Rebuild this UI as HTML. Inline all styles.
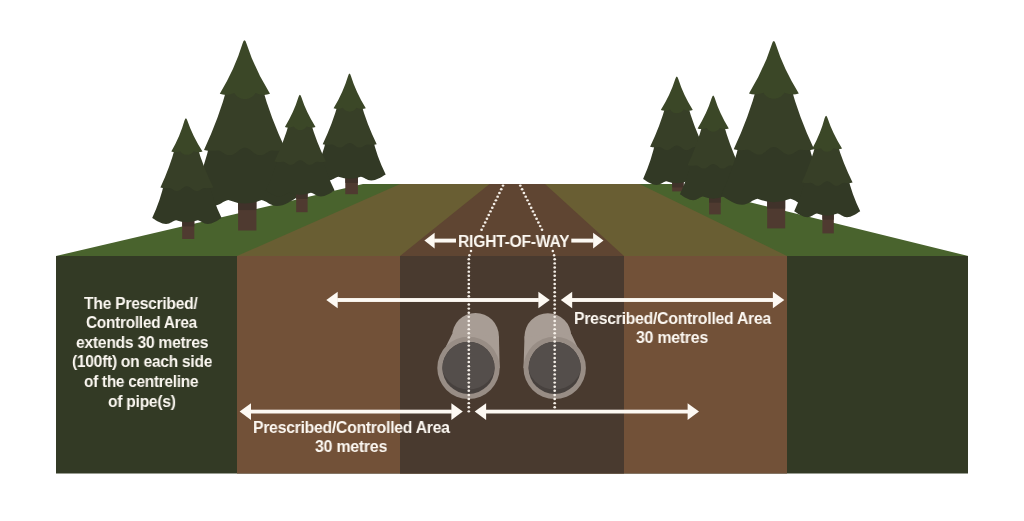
<!DOCTYPE html>
<html><head><meta charset="utf-8"><title>Right-of-way diagram</title>
<style>
html,body{margin:0;padding:0;background:#fff;}
body{width:1024px;height:521px;position:relative;overflow:hidden;font-family:"Liberation Sans",sans-serif;}
.t{position:absolute;color:#fcf8f2;font-weight:bold;white-space:nowrap;text-align:center;line-height:1;transform-origin:0 0;will-change:transform;filter:blur(0.3px);}
</style></head><body>
<svg width="1024" height="521" viewBox="0 0 1024 521" style="position:absolute;left:0;top:0;filter:blur(0.45px)">

<polygon points="56,256 363,184 676,184 968.2,256" fill="#49632d"/>
<polygon points="237,256 400.2,184 639.5,184 787,256" fill="#695e33"/>
<polygon points="400,256 489.5,184 545,184 624,256" fill="#5f4532"/>
<rect x="56" y="256" width="912" height="217.5" fill="#333a25"/>
<rect x="237" y="256" width="550" height="217.5" fill="#725138"/>
<rect x="400" y="256" width="224" height="217.5" fill="#493a2f"/>

<g><rect x="345.3" y="174.5" width="12.6" height="19.7" fill="#4f3a30"/><rect x="345.3" y="174.5" width="12.6" height="8.4" fill="#40322a"/><path d="M 326.54 138.2 L 372.72 138.2 Q 376.69 156.35 385.7 174.5 C 380.66 177.5 376.34 180.4 371.3 180.4 C 366.62 180.4 364.1 177 360.86 176.7 Q 349.7 181 338.54 176.7 C 335.3 177 332.78 180.4 328.1 180.4 C 323.06 180.4 318.74 177.5 313.7 174.5 Q 322.64 156.35 326.54 138.2 Z" fill="#323925"/><path d="M 338.16 103.3 L 361.01 103.3 Q 366.69 123.75 376.7 144.2 Q 372.65 145.2 367.52 144.5 C 364.82 144.6 363.2 147.6 359.42 147.6 C 355.64 147.6 353.48 142.9 349.7 142.9 C 345.92 142.9 343.76 147.6 339.98 147.6 C 336.2 147.6 334.58 144.6 331.88 144.5 Q 326.75 145.2 322.7 144.2 Q 332.59 123.75 338.16 103.3 Z" fill="#373f27"/><path d="M 348 76.15 Q 349.5 71.05 351 76.15 Q 355.98 92.22 365.8 108.3 Q 361.61 109.91 356.46 107.82 C 353.56 112.97 345.84 112.97 342.94 107.82 Q 337.79 109.91 333.6 108.3 Q 343.21 92.22 348 76.15 Z" fill="#3b4727"/></g><g><rect x="238.1" y="196.6" width="18.3" height="33.9" fill="#4f3a30"/><rect x="238.1" y="196.6" width="18.3" height="13.44" fill="#40322a"/><path d="M 210.47 140.3 L 279.05 140.3 Q 284.98 168.45 298.4 196.6 C 290.91 201.4 284.49 206.04 277 206.04 C 270.05 206.04 266.3 200.6 261.49 200.12 Q 244.9 207 228.31 200.12 C 223.5 200.6 219.75 206.04 212.8 206.04 C 205.31 206.04 198.89 201.4 191.4 196.6 Q 204.68 168.45 210.47 140.3 Z" fill="#323925"/><path d="M 227.58 85.8 L 261.76 85.8 Q 270.51 117.85 285.8 149.9 Q 279.67 151.5 271.89 150.38 C 267.8 150.54 265.35 155.34 259.62 155.34 C 253.9 155.34 250.63 147.82 244.9 147.82 C 239.17 147.82 235.9 155.34 230.18 155.34 C 224.45 155.34 222 150.54 217.91 150.38 Q 210.13 151.5 204 149.9 Q 219.06 117.85 227.58 85.8 Z" fill="#373f27"/><path d="M 242.55 43.5 Q 244.5 36.88 246.45 43.5 Q 254.46 68.65 270 93.8 Q 263.47 96.31 255.44 93.05 C 250.92 101.08 238.88 101.08 234.36 93.05 Q 226.33 96.31 219.8 93.8 Q 234.94 68.65 242.55 43.5 Z" fill="#3b4727"/></g><g><rect x="296.2" y="190.5" width="11.4" height="21.7" fill="#4f3a30"/><rect x="296.2" y="190.5" width="11.4" height="8.4" fill="#40322a"/><path d="M 278.23 155.5 L 321.95 155.5 Q 325.87 173 334.6 190.5 C 329.78 193.5 325.66 196.4 320.84 196.4 C 316.37 196.4 313.96 193 310.86 192.7 Q 300.2 197 289.54 192.7 C 286.44 193 284.03 196.4 279.56 196.4 C 274.74 196.4 270.62 193.5 265.8 190.5 Q 274.42 173 278.23 155.5 Z" fill="#323925"/><path d="M 289.43 122 L 310.61 122 Q 316.24 141.75 326 161.5 Q 322.13 162.5 317.23 161.8 C 314.65 161.9 313.1 164.9 309.49 164.9 C 305.88 164.9 303.81 160.2 300.2 160.2 C 296.59 160.2 294.52 164.9 290.91 164.9 C 287.3 164.9 285.75 161.9 283.17 161.8 Q 278.27 162.5 274.4 161.5 Q 283.98 141.75 289.43 122 Z" fill="#373f27"/><path d="M 298.4 97.35 Q 299.9 92.25 301.4 97.35 Q 306.15 112.17 315.5 127 Q 311.52 128.53 306.63 126.54 C 303.87 131.44 296.53 131.44 293.77 126.54 Q 288.88 128.53 284.9 127 Q 293.94 112.17 298.4 97.35 Z" fill="#3b4727"/></g><g><rect x="182.2" y="218" width="12.1" height="21" fill="#4f3a30"/><rect x="182.2" y="218" width="12.1" height="8.4" fill="#40322a"/><path d="M 164.47 181.6 L 208.61 181.6 Q 212.67 199.8 221.6 218 C 216.74 221 212.58 223.9 207.72 223.9 C 203.21 223.9 200.78 220.5 197.66 220.2 Q 186.9 224.5 176.14 220.2 C 173.02 220.5 170.59 223.9 166.08 223.9 C 161.22 223.9 157.06 221 152.2 218 Q 160.76 199.8 164.47 181.6 Z" fill="#323925"/><path d="M 175.42 146.6 L 197.2 146.6 Q 203.18 167.1 213.4 187.6 Q 209.43 188.6 204.39 187.9 C 201.74 188 200.15 191 196.44 191 C 192.73 191 190.61 186.3 186.9 186.3 C 183.19 186.3 181.07 191 177.36 191 C 173.65 191 172.06 188 169.41 187.9 Q 164.38 188.6 160.4 187.6 Q 170.03 167.1 175.42 146.6 Z" fill="#373f27"/><path d="M 184.4 120.85 Q 185.9 115.75 187.4 120.85 Q 192.61 136.22 202.5 151.6 Q 198.44 153.16 193.45 151.13 C 190.64 156.12 183.16 156.12 180.35 151.13 Q 175.36 153.16 171.3 151.6 Q 180.19 136.22 184.4 120.85 Z" fill="#3b4727"/></g><g><rect x="672.2" y="179" width="11.4" height="12.4" fill="#4f3a30"/><rect x="672.2" y="179" width="11.4" height="8.4" fill="#40322a"/><path d="M 655.61 140.8 L 697.99 140.8 Q 701.89 159.9 710.5 179 C 705.78 182 701.74 184.9 697.02 184.9 C 692.64 184.9 690.28 181.5 687.25 181.2 Q 676.8 185.5 666.35 181.2 C 663.32 181.5 660.96 184.9 656.58 184.9 C 651.86 184.9 647.82 182 643.1 179 Q 651.71 159.9 655.61 140.8 Z" fill="#323925"/><path d="M 665.89 105 L 687.71 105 Q 693.47 125.9 703.5 146.8 Q 699.5 147.8 694.42 147.1 C 691.75 147.2 690.15 150.2 686.41 150.2 C 682.67 150.2 680.54 145.5 676.8 145.5 C 673.06 145.5 670.93 150.2 667.19 150.2 C 663.45 150.2 661.85 147.2 659.18 147.1 Q 654.1 147.8 650.1 146.8 Q 660.13 125.9 665.89 105 Z" fill="#373f27"/><path d="M 675.3 78.95 Q 676.8 73.85 678.3 78.95 Q 683.15 94.47 692.8 110 Q 688.64 111.6 683.52 109.52 C 680.64 114.64 672.96 114.64 670.08 109.52 Q 664.96 111.6 660.8 110 Q 670.45 94.47 675.3 78.95 Z" fill="#3b4727"/></g><g><rect x="709.1" y="194.3" width="11.6" height="20.1" fill="#4f3a30"/><rect x="709.1" y="194.3" width="11.6" height="8.4" fill="#40322a"/><path d="M 691.68 159.2 L 734.72 159.2 Q 738.28 176.75 746.5 194.3 C 741.84 197.3 737.84 200.2 733.18 200.2 C 728.85 200.2 726.52 196.8 723.52 196.5 Q 713.2 200.8 702.88 196.5 C 699.88 196.8 697.55 200.2 693.22 200.2 C 688.56 200.2 684.56 197.3 679.9 194.3 Q 688.12 176.75 691.68 159.2 Z" fill="#323925"/><path d="M 702.87 123.4 L 723.53 123.4 Q 729.12 144.3 738.8 165.2 Q 734.96 166.2 730.1 165.5 C 727.54 165.6 726 168.6 722.42 168.6 C 718.83 168.6 716.78 163.9 713.2 163.9 C 709.62 163.9 707.57 168.6 703.98 168.6 C 700.4 168.6 698.86 165.6 696.3 165.5 Q 691.44 166.2 687.6 165.2 Q 697.28 144.3 702.87 123.4 Z" fill="#373f27"/><path d="M 711.7 97.95 Q 713.2 92.85 714.7 97.95 Q 719.41 113.17 728.8 128.4 Q 724.74 129.96 719.75 127.93 C 716.94 132.92 709.46 132.92 706.65 127.93 Q 701.66 129.96 697.6 128.4 Q 706.99 113.17 711.7 97.95 Z" fill="#3b4727"/></g><g><rect x="767.2" y="195.2" width="18" height="33.2" fill="#4f3a30"/><rect x="767.2" y="195.2" width="18" height="13.44" fill="#40322a"/><path d="M 740.04 139.6 L 807.69 139.6 Q 813.5 167.4 826.7 195.2 C 819.31 200 812.97 204.64 805.58 204.64 C 798.72 204.64 795.02 199.2 790.27 198.72 Q 773.9 205.6 757.53 198.72 C 752.78 199.2 749.08 204.64 742.22 204.64 C 734.83 204.64 728.49 200 721.1 195.2 Q 734.27 167.4 740.04 139.6 Z" fill="#323925"/><path d="M 757.24 85.4 L 790.45 85.4 Q 799.06 117.3 814.1 149.2 Q 808.07 150.8 800.43 149.68 C 796.41 149.84 794 154.64 788.37 154.64 C 782.74 154.64 779.53 147.12 773.9 147.12 C 768.27 147.12 765.06 154.64 759.43 154.64 C 753.8 154.64 751.39 149.84 747.37 149.68 Q 739.73 150.8 733.7 149.2 Q 748.68 117.3 757.24 85.4 Z" fill="#373f27"/><path d="M 771.85 44.2 Q 773.8 37.58 775.75 44.2 Q 783.54 68.8 798.8 93.4 Q 792.33 95.89 784.36 92.65 C 779.88 100.62 767.92 100.62 763.44 92.65 Q 755.47 95.89 749 93.4 Q 764.16 68.8 771.85 44.2 Z" fill="#3b4727"/></g><g><rect x="822.4" y="211.3" width="11.4" height="22.1" fill="#4f3a30"/><rect x="822.4" y="211.3" width="11.4" height="8.4" fill="#40322a"/><path d="M 805.79 176.5 L 847.81 176.5 Q 851.7 193.9 860.2 211.3 C 855.58 214.3 851.62 217.2 847 217.2 C 842.71 217.2 840.4 213.8 837.43 213.5 Q 827.2 217.8 816.97 213.5 C 814 213.8 811.69 217.2 807.4 217.2 C 802.78 217.2 798.82 214.3 794.2 211.3 Q 802.3 193.9 805.79 176.5 Z" fill="#323925"/><path d="M 815.91 143.6 L 837.21 143.6 Q 842.88 163.05 852.6 182.5 Q 848.79 183.5 843.96 182.8 C 841.42 182.9 839.9 185.9 836.34 185.9 C 832.79 185.9 830.76 181.2 827.2 181.2 C 823.64 181.2 821.61 185.9 818.06 185.9 C 814.5 185.9 812.98 182.9 810.44 182.8 Q 805.61 183.5 801.8 182.5 Q 810.89 163.05 815.91 143.6 Z" fill="#373f27"/><path d="M 824.6 118.35 Q 826.1 113.25 827.6 118.35 Q 832.6 133.47 842.05 148.6 Q 838.19 150.09 833.44 148.15 C 830.76 152.91 823.64 152.91 820.96 148.15 Q 816.21 150.09 812.35 148.6 Q 820.7 133.47 824.6 118.35 Z" fill="#3b4727"/></g>
<g><circle cx="475.5" cy="336.4" r="23.4" fill="#a89d95"/><polygon points="498.9,336.4 452.1,333.9 446.06,346.23 468.5,367.9 499.7,367.9" fill="#a89d95"/><circle cx="468.5" cy="367.9" r="31.2" fill="#988d85"/><circle cx="468.5" cy="367.9" r="26.1" fill="#47413e"/><clipPath id="c468"><circle cx="468.5" cy="367.9" r="26.1"/></clipPath><circle cx="468.5" cy="361.9" r="27.6" fill="#544e4b" clip-path="url(#c468)"/></g><g><circle cx="547.9" cy="336.6" r="23.4" fill="#a89d95"/><polygon points="524.5,336.6 571.3,334.1 577.14,346.23 554.7,367.9 523.5,367.9" fill="#a89d95"/><circle cx="554.7" cy="367.9" r="31.2" fill="#988d85"/><circle cx="554.7" cy="367.9" r="26.1" fill="#47413e"/><clipPath id="c554"><circle cx="554.7" cy="367.9" r="26.1"/></clipPath><circle cx="554.7" cy="361.9" r="27.6" fill="#544e4b" clip-path="url(#c554)"/></g>
<g fill="#f5efe8"><ellipse cx="503" cy="185.6" rx="1.35" ry="1.2"/><ellipse cx="501.22" cy="189.28" rx="1.35" ry="1.2"/><ellipse cx="499.43" cy="192.97" rx="1.35" ry="1.2"/><ellipse cx="497.65" cy="196.65" rx="1.35" ry="1.2"/><ellipse cx="495.87" cy="200.33" rx="1.35" ry="1.2"/><ellipse cx="494.08" cy="204.02" rx="1.35" ry="1.2"/><ellipse cx="492.3" cy="207.7" rx="1.35" ry="1.2"/><ellipse cx="490.52" cy="211.38" rx="1.35" ry="1.2"/><ellipse cx="488.73" cy="215.07" rx="1.35" ry="1.2"/><ellipse cx="486.95" cy="218.75" rx="1.35" ry="1.2"/><ellipse cx="485.17" cy="222.43" rx="1.35" ry="1.2"/><ellipse cx="483.38" cy="226.12" rx="1.35" ry="1.2"/><ellipse cx="481.6" cy="229.8" rx="1.35" ry="1.2"/><ellipse cx="520.3" cy="185.6" rx="1.35" ry="1.2"/><ellipse cx="522.11" cy="189.28" rx="1.35" ry="1.2"/><ellipse cx="523.92" cy="192.97" rx="1.35" ry="1.2"/><ellipse cx="525.72" cy="196.65" rx="1.35" ry="1.2"/><ellipse cx="527.53" cy="200.33" rx="1.35" ry="1.2"/><ellipse cx="529.34" cy="204.02" rx="1.35" ry="1.2"/><ellipse cx="531.15" cy="207.7" rx="1.35" ry="1.2"/><ellipse cx="532.96" cy="211.38" rx="1.35" ry="1.2"/><ellipse cx="534.77" cy="215.07" rx="1.35" ry="1.2"/><ellipse cx="536.58" cy="218.75" rx="1.35" ry="1.2"/><ellipse cx="538.38" cy="222.43" rx="1.35" ry="1.2"/><ellipse cx="540.19" cy="226.12" rx="1.35" ry="1.2"/><ellipse cx="542" cy="229.8" rx="1.35" ry="1.2"/><circle cx="471" cy="251" r="1.25"/><circle cx="469.4" cy="255.2" r="1.25"/><ellipse cx="468.8" cy="259.3" rx="1.35" ry="1.2"/><ellipse cx="468.8" cy="263.41" rx="1.35" ry="1.2"/><ellipse cx="468.8" cy="267.52" rx="1.35" ry="1.2"/><ellipse cx="468.8" cy="271.63" rx="1.35" ry="1.2"/><ellipse cx="468.8" cy="275.74" rx="1.35" ry="1.2"/><ellipse cx="468.8" cy="279.85" rx="1.35" ry="1.2"/><ellipse cx="468.8" cy="283.96" rx="1.35" ry="1.2"/><ellipse cx="468.8" cy="288.07" rx="1.35" ry="1.2"/><ellipse cx="468.8" cy="292.18" rx="1.35" ry="1.2"/><ellipse cx="468.8" cy="296.29" rx="1.35" ry="1.2"/><ellipse cx="468.8" cy="300.4" rx="1.35" ry="1.2"/><ellipse cx="468.8" cy="304.51" rx="1.35" ry="1.2"/><ellipse cx="468.8" cy="308.62" rx="1.35" ry="1.2"/><ellipse cx="468.8" cy="312.73" rx="1.35" ry="1.2"/><ellipse cx="468.8" cy="316.84" rx="1.35" ry="1.2"/><ellipse cx="468.8" cy="320.95" rx="1.35" ry="1.2"/><ellipse cx="468.8" cy="325.06" rx="1.35" ry="1.2"/><ellipse cx="468.8" cy="329.17" rx="1.35" ry="1.2"/><ellipse cx="468.8" cy="333.28" rx="1.35" ry="1.2"/><ellipse cx="468.8" cy="337.39" rx="1.35" ry="1.2"/><ellipse cx="468.8" cy="341.5" rx="1.35" ry="1.2"/><ellipse cx="468.8" cy="345.61" rx="1.35" ry="1.2"/><ellipse cx="468.8" cy="349.72" rx="1.35" ry="1.2"/><ellipse cx="468.8" cy="353.83" rx="1.35" ry="1.2"/><ellipse cx="468.8" cy="357.94" rx="1.35" ry="1.2"/><ellipse cx="468.8" cy="362.05" rx="1.35" ry="1.2"/><ellipse cx="468.8" cy="366.16" rx="1.35" ry="1.2"/><ellipse cx="468.8" cy="370.27" rx="1.35" ry="1.2"/><ellipse cx="468.8" cy="374.38" rx="1.35" ry="1.2"/><ellipse cx="468.8" cy="378.49" rx="1.35" ry="1.2"/><ellipse cx="468.8" cy="382.6" rx="1.35" ry="1.2"/><ellipse cx="468.8" cy="386.71" rx="1.35" ry="1.2"/><ellipse cx="468.8" cy="390.82" rx="1.35" ry="1.2"/><ellipse cx="468.8" cy="394.93" rx="1.35" ry="1.2"/><ellipse cx="468.8" cy="399.04" rx="1.35" ry="1.2"/><ellipse cx="468.8" cy="403.15" rx="1.35" ry="1.2"/><ellipse cx="468.8" cy="407.26" rx="1.35" ry="1.2"/><ellipse cx="468.8" cy="411.37" rx="1.35" ry="1.2"/><circle cx="552.8" cy="251" r="1.25"/><circle cx="554.1" cy="255.2" r="1.25"/><ellipse cx="554.7" cy="259.3" rx="1.35" ry="1.2"/><ellipse cx="554.7" cy="263.41" rx="1.35" ry="1.2"/><ellipse cx="554.7" cy="267.52" rx="1.35" ry="1.2"/><ellipse cx="554.7" cy="271.63" rx="1.35" ry="1.2"/><ellipse cx="554.7" cy="275.74" rx="1.35" ry="1.2"/><ellipse cx="554.7" cy="279.85" rx="1.35" ry="1.2"/><ellipse cx="554.7" cy="283.96" rx="1.35" ry="1.2"/><ellipse cx="554.7" cy="288.07" rx="1.35" ry="1.2"/><ellipse cx="554.7" cy="292.18" rx="1.35" ry="1.2"/><ellipse cx="554.7" cy="296.29" rx="1.35" ry="1.2"/><ellipse cx="554.7" cy="300.4" rx="1.35" ry="1.2"/><ellipse cx="554.7" cy="304.51" rx="1.35" ry="1.2"/><ellipse cx="554.7" cy="308.62" rx="1.35" ry="1.2"/><ellipse cx="554.7" cy="312.73" rx="1.35" ry="1.2"/><ellipse cx="554.7" cy="316.84" rx="1.35" ry="1.2"/><ellipse cx="554.7" cy="320.95" rx="1.35" ry="1.2"/><ellipse cx="554.7" cy="325.06" rx="1.35" ry="1.2"/><ellipse cx="554.7" cy="329.17" rx="1.35" ry="1.2"/><ellipse cx="554.7" cy="333.28" rx="1.35" ry="1.2"/><ellipse cx="554.7" cy="337.39" rx="1.35" ry="1.2"/><ellipse cx="554.7" cy="341.5" rx="1.35" ry="1.2"/><ellipse cx="554.7" cy="345.61" rx="1.35" ry="1.2"/><ellipse cx="554.7" cy="349.72" rx="1.35" ry="1.2"/><ellipse cx="554.7" cy="353.83" rx="1.35" ry="1.2"/><ellipse cx="554.7" cy="357.94" rx="1.35" ry="1.2"/><ellipse cx="554.7" cy="362.05" rx="1.35" ry="1.2"/><ellipse cx="554.7" cy="366.16" rx="1.35" ry="1.2"/><ellipse cx="554.7" cy="370.27" rx="1.35" ry="1.2"/><ellipse cx="554.7" cy="374.38" rx="1.35" ry="1.2"/><ellipse cx="554.7" cy="378.49" rx="1.35" ry="1.2"/><ellipse cx="554.7" cy="382.6" rx="1.35" ry="1.2"/><ellipse cx="554.7" cy="386.71" rx="1.35" ry="1.2"/><ellipse cx="554.7" cy="390.82" rx="1.35" ry="1.2"/><ellipse cx="554.7" cy="394.93" rx="1.35" ry="1.2"/><ellipse cx="554.7" cy="399.04" rx="1.35" ry="1.2"/><ellipse cx="554.7" cy="403.15" rx="1.35" ry="1.2"/><ellipse cx="554.7" cy="407.26" rx="1.35" ry="1.2"/></g>
<g fill="#fdf9f3"><rect x="337.2" y="298.05" width="201.7" height="3.9"/><polygon points="326.3,300 337.7,291.8 337.7,308.2"/><polygon points="549.8,300 538.4,291.8 538.4,308.2"/><rect x="571.7" y="298.05" width="201.7" height="3.9"/><polygon points="560.8,300 572.2,291.8 572.2,308.2"/><polygon points="784.3,300 772.9,291.8 772.9,308.2"/><rect x="250.5" y="409.7" width="201.4" height="3.8"/><polygon points="239.6,411.6 251,403.2 251,420"/><polygon points="462.8,411.6 451.4,403.2 451.4,420"/><rect x="485.6" y="409.7" width="202.5" height="3.8"/><polygon points="474.7,411.6 486.1,403.2 486.1,420"/><polygon points="699,411.6 687.6,403.2 687.6,420"/><rect x="434.1" y="238.65" width="21.9" height="3.9"/><polygon points="424.4,240.6 434.6,232.8 434.6,248.4"/><rect x="571.3" y="238.65" width="22.3" height="3.9"/><polygon points="603.5,240.6 593.1,232.8 593.1,248.4"/></g>
</svg>
<style>.t{font-size:16.8px;letter-spacing:-0.3px}</style>
<div class="t" style="left:457.8px;top:234.0px;transform:scaleX(0.9364)">RIGHT-OF-WAY</div>
<div class="t" style="left:84.4px;top:295.7px;transform:scaleX(0.9356)">The Prescribed/</div>
<div class="t" style="left:86.4px;top:315.1px;transform:scaleX(0.9182)">Controlled Area</div>
<div class="t" style="left:75.7px;top:334.6px;transform:scaleX(0.9356)">extends 30 metres</div>
<div class="t" style="left:71.9px;top:354.4px;transform:scaleX(0.9296)">(100ft) on each side</div>
<div class="t" style="left:84.4px;top:374.0px;transform:scaleX(0.9168)">of the centreline</div>
<div class="t" style="left:108.2px;top:393.7px;transform:scaleX(0.9326)">of pipe(s)</div>
<div class="t" style="left:574.0px;top:310.6px;transform:scaleX(0.9431)">Prescribed/Controlled Area</div>
<div class="t" style="left:635.8px;top:329.9px;transform:scaleX(0.9508)">30 metres</div>
<div class="t" style="left:252.9px;top:419.9px;transform:scaleX(0.9417)">Prescribed/Controlled Area</div>
<div class="t" style="left:314.6px;top:439.2px;transform:scaleX(0.9521)">30 metres</div>
</body></html>
